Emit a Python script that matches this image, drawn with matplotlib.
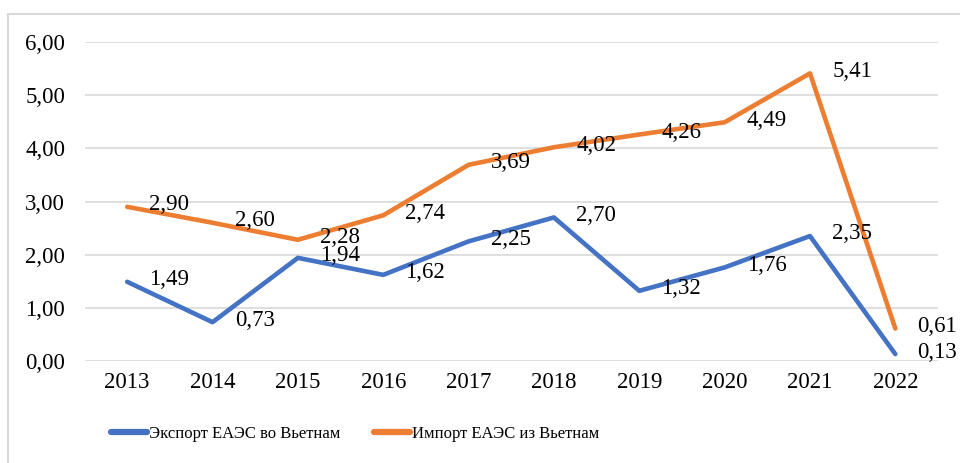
import matplotlib.pyplot as plt
from matplotlib.patches import Rectangle

years = ['2013', '2014', '2015', '2016', '2017', '2018', '2019', '2020', '2021', '2022']
export_vals = [1.49, 0.73, 1.94, 1.62, 2.25, 2.70, 1.32, 1.76, 2.35, 0.13]
import_vals = [2.90, 2.60, 2.28, 2.74, 3.69, 4.02, 4.26, 4.49, 5.41, 0.61]
yticks = [0, 1, 2, 3, 4, 5, 6]

plt.rcParams['font.family'] = ['Liberation Serif', 'DejaVu Serif']

W, H = 960, 463
fig = plt.figure(figsize=(W / 100, H / 100), dpi=100)
ax = fig.add_axes([84.5 / W, (H - 361) / H, (938 - 84.5) / W, (361 - 42) / H])

# chart border (light gray)
fig.patches.append(Rectangle((8 / W, -0.1), 1.2, (H - 14) / H + 0.1, transform=fig.transFigure,
                             fill=False, edgecolor='#D9D9D9', linewidth=1.5))

x = range(len(years))
blue = '#4472C4'
orange = '#ED7D31'
ax.plot(x, export_vals, color=blue, lw=3.3, solid_joinstyle='round', solid_capstyle='round',
        label='Экспорт ЕАЭС во Вьетнам', zorder=3)
ax.plot(x, import_vals, color=orange, lw=3.3, solid_joinstyle='round', solid_capstyle='round',
        label='Импорт ЕАЭС из Вьетнам', zorder=3)

def fmt(v):
    return ('%.2f' % v).replace('.', ',')

for xs, vals in [(x, export_vals), (x, import_vals)]:
    for i, v in zip(xs, vals):
        ax.annotate(fmt(v), (i, v), xytext=(16, 1.5), textcoords='offset points',
                    ha='left', va='center', fontsize=16.5, zorder=4)

ax.set_xlim(-0.5, len(years) - 0.5)
ax.set_ylim(0, 6)
ax.set_yticks(yticks)
ax.set_yticklabels([fmt(v) for v in yticks])
ax.set_xticks(list(x))
ax.set_xticklabels(years)
ax.tick_params(axis='y', length=0, pad=14, labelsize=16.5)
ax.tick_params(axis='x', length=0, pad=8, labelsize=16.5)
ax.grid(axis='y', color='#D9D9D9', lw=1.2)
ax.set_axisbelow(True)
for s in ax.spines.values():
    s.set_visible(False)

leg = fig.legend(loc='center', bbox_to_anchor=(355 / W, (H - 434) / H), ncol=2, frameon=False,
                 fontsize=12, handlelength=2.2, handletextpad=0.1, columnspacing=2.0)
for line in leg.get_lines():
    line.set_linewidth(4.5)

fig.savefig('out.png', dpi=100)
